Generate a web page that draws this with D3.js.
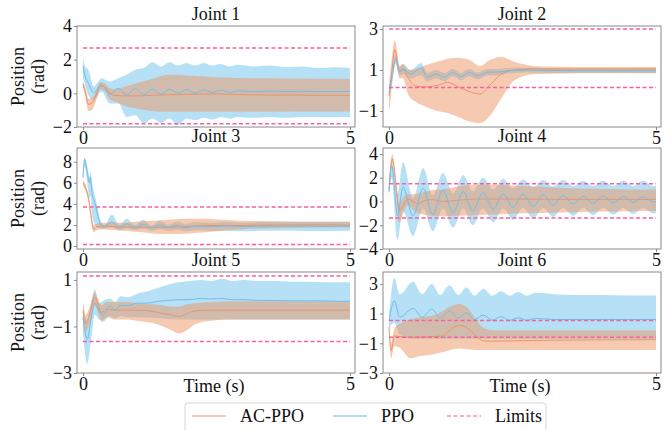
<!DOCTYPE html>
<meta charset="utf-8">
<script src="https://d3js.org/d3.v7.min.js"></script>
<style>
  body { margin: 0; background: #fff; }
  svg text { font-family: "Liberation Serif", "Times New Roman", Times, serif; fill: #111; }
</style>
<div id="chart"></div>
<script>
// ---- data (time in s, position in rad) ----
const titles = ["Joint 1", "Joint 2", "Joint 3", "Joint 4", "Joint 5", "Joint 6"];
const yDomains = [[-2, 4], [-1.78, 3.15], [-0.28, 9.3], [-4, 4.5], [-3, 1.34], [-3, 3.8]];
const yTicks = [[-2, 0, 2, 4], [-1, 1, 3], [0, 2, 4, 6, 8], [-4, -2, 0, 2, 4], [-3, -1, 1], [-3, -1, 1, 3]];
const xTicks = [0, 5];
const limits = [[-1.8, 2.7], [0.15, 3.0], [0.15, 3.7], [-1.4, 1.5], [-1.65, 1.17], [-0.6, 0.53]];
const legendLabels = ["AC-PPO", "PPO", "Limits"];

// Joint 1
const j1PpoT    = [0, 0.04, 0.1, 0.2, 0.35, 0.5, 0.66, 0.82, 0.98, 1.14, 1.3, 1.46, 1.62, 1.78, 1.94, 2.1, 2.26, 2.42, 2.58, 2.74, 2.9, 3.2, 3.5, 3.8, 4.1, 4.4, 4.7, 5.0];
const j1PpoMean = [1.6, 1.0, 0.6, 0.05, 0.5, -0.05, 0.3, -0.1, 0.28, -0.08, 0.25, -0.05, 0.25, 0.0, 0.22, 0.02, 0.2, 0.05, 0.18, 0.06, 0.15, 0.1, 0.13, 0.1, 0.12, 0.1, 0.11, 0.1];
const j1PpoHi   = [2.2, 1.6, 1.4, 0.4, 0.9, 0.7, 0.9, 1.1, 1.4, 1.5, 1.85, 1.6, 1.85, 1.65, 1.8, 1.65, 1.8, 1.65, 1.75, 1.6, 1.7, 1.6, 1.65, 1.55, 1.6, 1.5, 1.55, 1.5];
const j1PpoLo   = [0.9, 0.5, -0.1, -0.4, 0.1, -0.6, -0.6, -1.4, -1.3, -1.8, -1.5, -1.75, -1.5, -1.9, -1.5, -1.6, -1.45, -1.55, -1.4, -1.5, -1.4, -1.45, -1.4, -1.45, -1.4, -1.4, -1.4, -1.4];
const j1AcT     = [0, 0.05, 0.1, 0.16, 0.26, 0.32, 0.4, 0.5, 0.6, 0.8, 1.0, 1.3, 1.6, 2.0, 2.5, 3.0, 3.5, 4.0, 4.5, 5.0];
const j1AcMean  = [0.55, 0.0, -0.65, -0.6, 0.0, 0.45, 0.4, 0.0, -0.12, -0.15, -0.15, -0.12, -0.08, -0.05, -0.03, -0.08, -0.1, -0.1, -0.12, -0.12];
const j1AcHi    = [0.75, 0.3, -0.3, -0.3, 0.25, 0.65, 0.6, 0.3, 0.25, 0.4, 0.6, 0.85, 1.1, 1.05, 0.95, 0.9, 0.9, 0.88, 0.86, 0.86];
const j1AcLo    = [0.35, -0.3, -1.05, -1.0, -0.3, 0.25, 0.15, -0.35, -0.5, -0.75, -0.9, -1.05, -1.1, -1.1, -1.1, -1.1, -1.1, -1.08, -1.08, -1.08];

// Joint 2
const j2PpoT    = [0, 0.05, 0.13, 0.19, 0.26, 0.41, 0.6, 0.72, 0.88, 1.04, 1.19, 1.35, 1.5, 1.66, 1.85, 2.03, 2.22, 2.6, 3.0, 3.5, 4.0, 4.5, 5.0];
const j2PpoMean = [-0.1, 0.6, 1.55, 0.95, 1.05, 0.8, 1.1, 0.65, 0.8, 0.65, 0.88, 0.68, 0.88, 0.72, 0.9, 0.9, 0.97, 1.0, 0.98, 0.97, 0.97, 0.96, 0.96];
const j2PpoHi   = [0.1, 0.9, 1.75, 1.15, 1.3, 1.0, 1.35, 0.85, 1.0, 0.85, 1.05, 0.85, 1.05, 0.88, 1.05, 1.05, 1.1, 1.12, 1.1, 1.08, 1.08, 1.07, 1.07];
const j2PpoLo   = [-0.3, 0.3, 1.3, 0.75, 0.8, 0.6, 0.75, 0.45, 0.6, 0.45, 0.7, 0.5, 0.7, 0.55, 0.75, 0.75, 0.83, 0.88, 0.86, 0.85, 0.85, 0.84, 0.84];
const j2AcT     = [0, 0.04, 0.11, 0.2, 0.26, 0.36, 0.5, 0.7, 0.9, 1.1, 1.3, 1.5, 1.7, 1.9, 2.1, 2.35, 2.7, 3.0, 3.5, 4.0, 4.5, 5.0];
const j2AcMean  = [-0.25, 0.6, 2.0, 0.9, 1.05, 0.6, 0.22, 0.18, 0.25, 0.4, 0.18, -0.05, -0.17, 0.3, 0.8, 1.0, 1.05, 1.05, 1.05, 1.05, 1.05, 1.05];
const j2AcHi    = [0.3, 1.3, 2.45, 1.2, 1.3, 1.0, 1.05, 1.25, 1.4, 1.55, 1.6, 1.5, 1.2, 1.5, 1.65, 1.4, 1.2, 1.17, 1.15, 1.15, 1.15, 1.15];
const j2AcLo    = [-1.05, -0.2, 1.5, 0.6, 0.6, -0.2, -0.55, -0.8, -1.0, -1.1, -1.3, -1.5, -1.6, -1.2, -0.4, 0.5, 0.8, 0.82, 0.84, 0.85, 0.85, 0.85];

// Joint 3
const j3PpoT    = [0, 0.03, 0.08, 0.12, 0.14, 0.17, 0.21, 0.25, 0.29, 0.33, 0.4, 0.54, 0.68, 0.82, 0.97, 1.13, 1.28, 1.44, 1.6, 1.76, 1.92, 2.1, 2.4, 2.7, 3.0, 3.5, 4.0, 4.5, 5.0];
const j3PpoMean = [6.5, 8.2, 7.0, 6.0, 6.5, 5.0, 4.3, 3.5, 2.6, 2.0, 1.8, 2.3, 1.75, 2.1, 1.75, 2.05, 1.7, 2.0, 1.75, 1.95, 1.75, 1.9, 1.85, 1.9, 1.85, 1.9, 1.9, 1.88, 1.9];
const j3PpoHi   = [6.9, 8.4, 7.6, 6.6, 6.9, 6.0, 5.0, 4.2, 3.2, 2.4, 2.0, 3.0, 2.0, 2.6, 2.0, 2.5, 1.95, 2.4, 2.0, 2.3, 2.1, 2.25, 2.2, 2.3, 2.2, 2.3, 2.3, 2.3, 2.3];
const j3PpoLo   = [6.1, 7.5, 6.0, 4.5, 4.8, 3.0, 2.2, 1.8, 1.7, 1.65, 1.65, 1.8, 1.5, 1.7, 1.5, 1.65, 1.45, 1.6, 1.45, 1.55, 1.4, 1.5, 1.45, 1.45, 1.4, 1.45, 1.45, 1.42, 1.45];
const j3AcT     = [0, 0.05, 0.1, 0.13, 0.16, 0.2, 0.25, 0.35, 0.5, 0.75, 1.0, 1.3, 1.6, 2.0, 2.3, 2.6, 3.0, 3.5, 4.0, 4.5, 5.0];
const j3AcMean  = [6.0, 5.5, 4.6, 3.6, 2.5, 1.6, 1.8, 1.9, 1.85, 1.8, 1.8, 1.78, 1.8, 1.85, 1.95, 1.95, 1.95, 2.0, 2.0, 2.0, 2.0];
const j3AcHi    = [6.3, 5.8, 4.9, 3.9, 2.9, 2.0, 2.1, 2.2, 2.2, 2.2, 2.3, 2.4, 2.5, 2.6, 2.6, 2.5, 2.4, 2.35, 2.3, 2.3, 2.3];
const j3AcLo    = [5.7, 5.2, 4.3, 3.3, 2.1, 1.3, 1.5, 1.6, 1.55, 1.45, 1.35, 1.2, 1.15, 1.2, 1.3, 1.45, 1.6, 1.7, 1.72, 1.75, 1.75];

// Joint 4
const j4PpoT    = [0, 0.05, 0.16, 0.26, 0.45, 0.64, 0.82, 1.01, 1.2, 1.39, 1.57, 1.76, 1.95, 2.14, 2.32, 2.51, 2.7, 2.89, 3.07, 3.26, 3.45, 3.64, 3.82, 4.01, 4.2, 4.39, 4.57, 4.76, 4.95, 5.0];
const j4PpoMean = [0.8, 3.0, -1.2, 1.2, -1.2, 1.1, -1.1, 0.95, -0.95, 0.85, -0.8, 0.75, -0.65, 0.65, -0.5, 0.6, -0.4, 0.55, -0.3, 0.5, -0.2, 0.45, -0.15, 0.45, -0.1, 0.42, -0.08, 0.4, -0.05, 0.0];
const j4PpoHi   = [1.2, 3.4, 0.6, 3.3, 0.3, 2.8, 0.5, 2.4, 0.7, 2.2, 0.85, 2.0, 1.0, 1.9, 1.1, 1.85, 1.2, 1.8, 1.25, 1.8, 1.3, 1.75, 1.3, 1.75, 1.3, 1.75, 1.3, 1.75, 1.3, 1.35];
const j4PpoLo   = [0.4, 2.0, -3.2, -0.8, -2.9, -0.6, -2.5, -0.6, -2.2, -0.6, -2.0, -0.6, -1.75, -0.6, -1.55, -0.55, -1.4, -0.55, -1.3, -0.55, -1.2, -0.55, -1.15, -0.55, -1.1, -0.55, -1.05, -0.55, -1.0, -0.95];
const j4AcT     = [0, 0.06, 0.14, 0.19, 0.26, 0.35, 0.45, 0.54, 0.65, 0.8, 1.0, 1.3, 1.6, 2.0, 2.5, 3.0, 3.5, 4.0, 4.5, 5.0];
const j4AcMean  = [1.0, 3.6, 1.0, -0.8, -0.4, 0.2, 0.0, -0.2, 0.05, 0.15, 0.0, 0.1, 0.2, 0.2, 0.2, 0.18, 0.17, 0.17, 0.17, 0.17];
const j4AcHi    = [1.3, 4.0, 1.5, -0.2, 0.3, 0.6, 0.6, 0.65, 0.8, 0.95, 1.0, 1.25, 1.4, 1.4, 1.3, 1.2, 1.1, 1.05, 1.0, 1.0];
const j4AcLo    = [0.7, 3.2, 0.5, -1.8, -1.1, -0.3, -0.7, -1.0, -1.1, -1.2, -1.25, -1.2, -1.15, -1.1, -1.0, -0.95, -0.9, -0.85, -0.82, -0.8];

// Joint 5
const j5PpoT    = [0, 0.08, 0.15, 0.22, 0.3, 0.38, 0.5, 0.6, 0.7, 0.85, 1.0, 1.2, 1.4, 1.6, 1.8, 2.0, 2.2, 2.4, 2.6, 2.8, 3.0, 3.3, 3.6, 3.9, 4.2, 4.5, 4.8, 5.0];
const j5PpoMean = [-0.6, -1.55, -0.7, 0.0, -0.35, -0.5, -0.12, -0.3, -0.1, -0.1, 0.0, 0.0, 0.08, 0.12, 0.15, 0.15, 0.2, 0.18, 0.2, 0.15, 0.15, 0.12, 0.12, 0.1, 0.1, 0.1, 0.08, 0.08];
const j5PpoHi   = [0.0, -0.8, 0.0, 0.6, 0.0, 0.1, 0.2, 0.05, 0.3, 0.25, 0.4, 0.5, 0.65, 0.8, 0.9, 0.95, 1.0, 0.95, 1.05, 0.95, 1.0, 0.95, 0.95, 0.92, 0.92, 0.9, 0.9, 0.9];
const j5PpoLo   = [-1.3, -2.6, -1.6, -0.5, -0.7, -0.8, -0.55, -0.65, -0.55, -0.6, -0.6, -0.62, -0.65, -0.68, -0.7, -0.7, -0.7, -0.7, -0.7, -0.7, -0.7, -0.7, -0.7, -0.7, -0.7, -0.7, -0.7, -0.7];
const j5AcT     = [0, 0.05, 0.12, 0.22, 0.35, 0.45, 0.6, 0.8, 1.0, 1.3, 1.5, 1.65, 1.8, 1.95, 2.1, 2.4, 2.8, 3.2, 3.6, 4.0, 4.5, 5.0];
const j5AcMean  = [-0.35, -0.85, -0.5, 0.25, -0.4, -0.25, -0.3, -0.3, -0.3, -0.35, -0.45, -0.5, -0.57, -0.45, -0.33, -0.3, -0.3, -0.3, -0.3, -0.3, -0.3, -0.3];
const j5AcHi    = [0.0, -0.5, -0.2, 0.45, -0.1, 0.05, 0.05, 0.05, 0.0, -0.05, -0.1, -0.15, -0.15, -0.05, 0.0, 0.05, 0.08, 0.08, 0.08, 0.08, 0.08, 0.08];
const j5AcLo    = [-0.65, -1.2, -0.9, -0.1, -0.75, -0.6, -0.7, -0.7, -0.75, -0.85, -1.0, -1.15, -1.3, -1.15, -0.9, -0.75, -0.7, -0.7, -0.7, -0.7, -0.7, -0.7];

// Joint 6
const j6PpoT    = [0, 0.1, 0.2, 0.45, 0.62, 0.8, 0.96, 1.13, 1.3, 1.45, 1.6, 1.77, 1.93, 2.1, 2.26, 2.42, 2.58, 2.74, 3.1, 3.5, 4.0, 4.5, 5.0];
const j6PpoMean = [0.5, 1.85, 0.75, 1.35, 0.75, 1.3, 0.7, 1.15, 0.7, 1.05, 0.6, 0.9, 0.55, 0.8, 0.55, 0.72, 0.55, 0.68, 0.6, 0.6, 0.6, 0.6, 0.6];
const j6PpoHi   = [0.8, 3.4, 2.3, 3.15, 2.3, 3.0, 2.25, 2.9, 2.25, 2.75, 2.2, 2.65, 2.2, 2.5, 2.2, 2.45, 2.2, 2.4, 2.3, 2.25, 2.25, 2.22, 2.22];
const j6PpoLo   = [0.0, 0.4, -0.4, -0.7, -0.7, -0.7, -0.7, -0.7, -0.7, -0.7, -0.7, -0.7, -0.7, -0.7, -0.7, -0.7, -0.7, -0.7, -0.7, -0.7, -0.7, -0.7, -0.7];
const j6AcT     = [0, 0.04, 0.1, 0.2, 0.4, 0.6, 0.8, 1.0, 1.1, 1.2, 1.32, 1.48, 1.63, 1.79, 2.0, 2.5, 3.0, 3.5, 4.0, 4.5, 5.0];
const j6AcMean  = [0.1, -1.5, -0.5, -0.55, -0.6, -0.58, -0.55, -0.5, -0.25, 0.05, 0.2, 0.0, -0.5, -0.85, -0.85, -0.82, -0.8, -0.78, -0.77, -0.76, -0.75];
const j6AcHi    = [0.3, -1.0, 0.0, 0.3, 0.6, 0.75, 0.85, 1.15, 1.4, 1.55, 1.65, 1.35, 0.6, 0.0, -0.13, -0.13, -0.13, -0.13, -0.13, -0.13, -0.13];
const j6AcLo    = [-0.2, -2.0, -1.2, -1.3, -2.0, -1.85, -1.75, -1.6, -1.5, -1.4, -1.35, -1.4, -1.45, -1.45, -1.45, -1.45, -1.45, -1.45, -1.45, -1.45, -1.45];

// series tables built from the arrays above
function rows(t, mean, lo, hi) {
    return t.map(function (d, i) { return {t: d, mean: mean[i], lo: lo[i], hi: hi[i]}; });
}
const ppoData = [
    rows(j1PpoT, j1PpoMean, j1PpoLo, j1PpoHi), rows(j2PpoT, j2PpoMean, j2PpoLo, j2PpoHi),
    rows(j3PpoT, j3PpoMean, j3PpoLo, j3PpoHi), rows(j4PpoT, j4PpoMean, j4PpoLo, j4PpoHi),
    rows(j5PpoT, j5PpoMean, j5PpoLo, j5PpoHi), rows(j6PpoT, j6PpoMean, j6PpoLo, j6PpoHi)];
const acData = [
    rows(j1AcT, j1AcMean, j1AcLo, j1AcHi), rows(j2AcT, j2AcMean, j2AcLo, j2AcHi),
    rows(j3AcT, j3AcMean, j3AcLo, j3AcHi), rows(j4AcT, j4AcMean, j4AcLo, j4AcHi),
    rows(j5AcT, j5AcMean, j5AcLo, j5AcHi), rows(j6AcT, j6AcMean, j6AcLo, j6AcHi)];

// ---- layout ----
const W = 670, H = 430;
const colX = [77, 383], pw = 278;
const rowY = [26, 148, 272], ph = 101;
const serif = '"Liberation Serif", "Times New Roman", Times, serif';
const fs = 18;

const blueFill = "rgb(107,193,237)", orangeFill = "rgb(236,150,100)";
const blueLine = "#72bde9", orangeLine = "#ec9569", limitColor = "#f7609f";

let svg = d3.select("#chart").append("svg")
    .attr("width", W).attr("height", H)
    .attr("font-family", serif);

function label(sel, size) {
    return sel.style("font-family", serif).style("font-size", size + "px").attr("fill", "#111");
}

titles.forEach(function (title, k) {
    let col = k % 2, row = Math.floor(k / 2);
    let g = svg.append("g")
        .attr("transform", "translate(" + colX[col] + "," + rowY[row] + ")");

    let x = d3.scaleLinear().domain([0, 5]).range([6, pw - 5]);
    let y = d3.scaleLinear().domain(yDomains[k]).range([ph, 0]);

    g.append("clipPath").attr("id", "clip" + k)
        .append("rect").attr("width", pw).attr("height", ph);
    let plot = g.append("g").attr("clip-path", "url(#clip" + k + ")");

    let area = d3.area().curve(d3.curveMonotoneX)
        .x(function (d) { return x(d.t); })
        .y0(function (d) { return y(d.lo); })
        .y1(function (d) { return y(d.hi); });
    let line = d3.line().curve(d3.curveMonotoneX)
        .x(function (d) { return x(d.t); })
        .y(function (d) { return y(d.mean); });

    plot.append("path").datum(ppoData[k]).attr("d", area)
        .attr("fill", blueFill).attr("fill-opacity", 0.5);
    plot.append("path").datum(acData[k]).attr("d", area)
        .attr("fill", orangeFill).attr("fill-opacity", 0.5);
    plot.append("path").datum(acData[k]).attr("d", line)
        .attr("fill", "none").attr("stroke", orangeLine).attr("stroke-width", 1);
    plot.append("path").datum(ppoData[k]).attr("d", line)
        .attr("fill", "none").attr("stroke", blueLine).attr("stroke-width", 1);

    // joint limits
    plot.selectAll(".limit").data(limits[k]).enter().append("line")
        .attr("x1", x(0)).attr("x2", x(5))
        .attr("y1", function (d) { return y(d); })
        .attr("y2", function (d) { return y(d); })
        .attr("stroke", limitColor).attr("stroke-width", 1.5)
        .attr("stroke-dasharray", "4,2.5");

    // frame
    g.append("rect").attr("width", pw).attr("height", ph)
        .attr("fill", "none").attr("stroke", "#8a8a8a").attr("stroke-width", 1);

    let yAxis = g.append("g")
        .call(d3.axisLeft(y).tickValues(yTicks[k]).tickFormat(d3.format("d"))
            .tickSize(3).tickSizeOuter(0).tickPadding(2));
    let xAxis = g.append("g").attr("transform", "translate(0," + ph + ")")
        .call(d3.axisBottom(x).tickValues(xTicks).tickFormat(d3.format("d"))
            .tickSize(3).tickSizeOuter(0).tickPadding(1));
    [yAxis, xAxis].forEach(function (a) {
        a.attr("font-family", serif).attr("font-size", fs);
        a.select(".domain").remove();
        a.selectAll("line").attr("stroke", "#8a8a8a");
        label(a.selectAll("text"), fs);
    });

    label(g.append("text"), fs).attr("x", pw / 2).attr("y", -6)
        .attr("text-anchor", "middle").text(title);

    if (col === 0) {
        let lab = label(g.append("text"), fs)
            .attr("transform", "translate(-53," + (ph / 2) + ") rotate(-90)")
            .attr("text-anchor", "middle");
        lab.append("tspan").attr("x", 0).attr("y", 0).text("Position");
        lab.append("tspan").attr("x", 0).attr("y", 20).text("(rad)");
    }
    if (row === 2) {
        label(g.append("text"), fs).attr("x", pw / 2 - 2).attr("y", ph + 19)
            .attr("text-anchor", "middle").text("Time (s)");
    }
});

// ---- legend ----
let leg = svg.append("g").attr("transform", "translate(185,403)");
leg.append("rect").attr("width", 361).attr("height", 34).attr("rx", 3)
    .attr("fill", "#fff").attr("stroke", "#d6d6d6").attr("stroke-width", 1);
const legX = [7, 148, 262];
const legStyle = [
    {color: orangeLine, dash: null},
    {color: blueLine, dash: null},
    {color: limitColor, dash: "4,2.5"}];
legendLabels.forEach(function (name, i) {
    leg.append("line").attr("x1", legX[i]).attr("x2", legX[i] + 34)
        .attr("y1", 13).attr("y2", 13)
        .attr("stroke", legStyle[i].color).attr("stroke-opacity", 0.7)
        .attr("stroke-width", 1.5).attr("stroke-dasharray", legStyle[i].dash);
    label(leg.append("text"), fs).attr("x", legX[i] + 48).attr("y", 19).text(name);
});
</script>
